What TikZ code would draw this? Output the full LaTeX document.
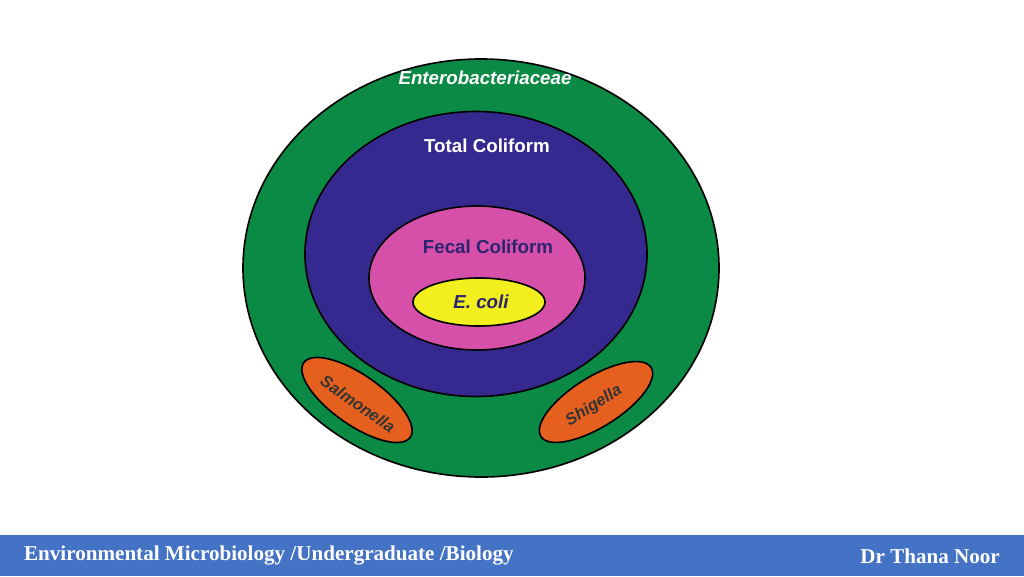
\documentclass[tikz,border=0pt]{standalone}
\usepackage{fontspec}
\setmainfont{Liberation Sans}
\newfontfamily\footfont{Liberation Serif}
\usetikzlibrary{shapes.geometric}
\definecolor{enterogreen}{HTML}{0B8A45}
\definecolor{coliblue}{HTML}{35298F}
\definecolor{fecalpink}{HTML}{D64FA8}
\definecolor{ecoliyellow}{HTML}{F3EF1E}
\definecolor{pathorange}{HTML}{E5601E}
\definecolor{footblue}{HTML}{4472C4}
\definecolor{labelnavy}{HTML}{2B2470}
\begin{document}
\begin{tikzpicture}[x=0.03cm, y=-0.03cm]
  % group styles
  \tikzset{
    group/.style={ellipse, draw=black, line width=1.4pt, inner sep=0pt},
    grouplabel/.style={font=\bfseries\fontsize{16}{16}\selectfont},
    footlabel/.style={font=\footfont\bfseries\fontsize{18}{18}\selectfont, text=white}
  }
  \useasboundingbox (0,0) rectangle (1024,576);
  \fill[white] (0,0) rectangle (1024,576);

  % nested groups
  \node[group, fill=enterogreen, minimum width=476*0.03cm, minimum height=418*0.03cm] (entero) at (481,268) {};
  \node[group, fill=coliblue, minimum width=342*0.03cm, minimum height=285*0.03cm] (total) at (476,254) {};
  \node[group, fill=fecalpink, minimum width=216*0.03cm, minimum height=144*0.03cm] (fecal) at (477,278) {};
  \node[group, fill=ecoliyellow, minimum width=132*0.03cm, minimum height=48*0.03cm] (ecoli) at (479,302) {};
  \node[group, fill=pathorange, minimum width=130*0.03cm, minimum height=50*0.03cm, rotate=-35] (salm) at (357,400) {};
  \node[group, fill=pathorange, minimum width=130*0.03cm, minimum height=50*0.03cm, rotate=32] (shig) at (596,402) {};

  % labels
  \node[grouplabel, text=white, font=\bfseries\itshape\fontsize{16}{16}\selectfont] (enterolbl) at (485,78) {Enterobacteriaceae};
  \node[grouplabel, text=white] (totallbl) at (487,146) {Total Coliform};
  \node[grouplabel, text=labelnavy] (fecallbl) at (488,247) {Fecal Coliform};
  \node[grouplabel, text=labelnavy, font=\bfseries\itshape\fontsize{16}{16}\selectfont] (ecolilbl) at (481,302) {E. coli};
  \node[grouplabel, text=black!80, font=\bfseries\itshape\fontsize{14}{14}\selectfont, rotate=-35] (salmlbl) at (358,404) {Salmonella};
  \node[grouplabel, text=black!80, font=\bfseries\itshape\fontsize{14}{14}\selectfont, rotate=32] (shiglbl) at (594,406) {Shigella};

  % footer
  \fill[footblue] (0,535) rectangle (1024,576);
  \node[footlabel, anchor=west] (course) at (20,556) {Environmental Microbiology /Undergraduate /Biology};
  \node[footlabel, anchor=east] (author) at (1004,556) {Dr Thana Noor};
\end{tikzpicture}
\end{document}
